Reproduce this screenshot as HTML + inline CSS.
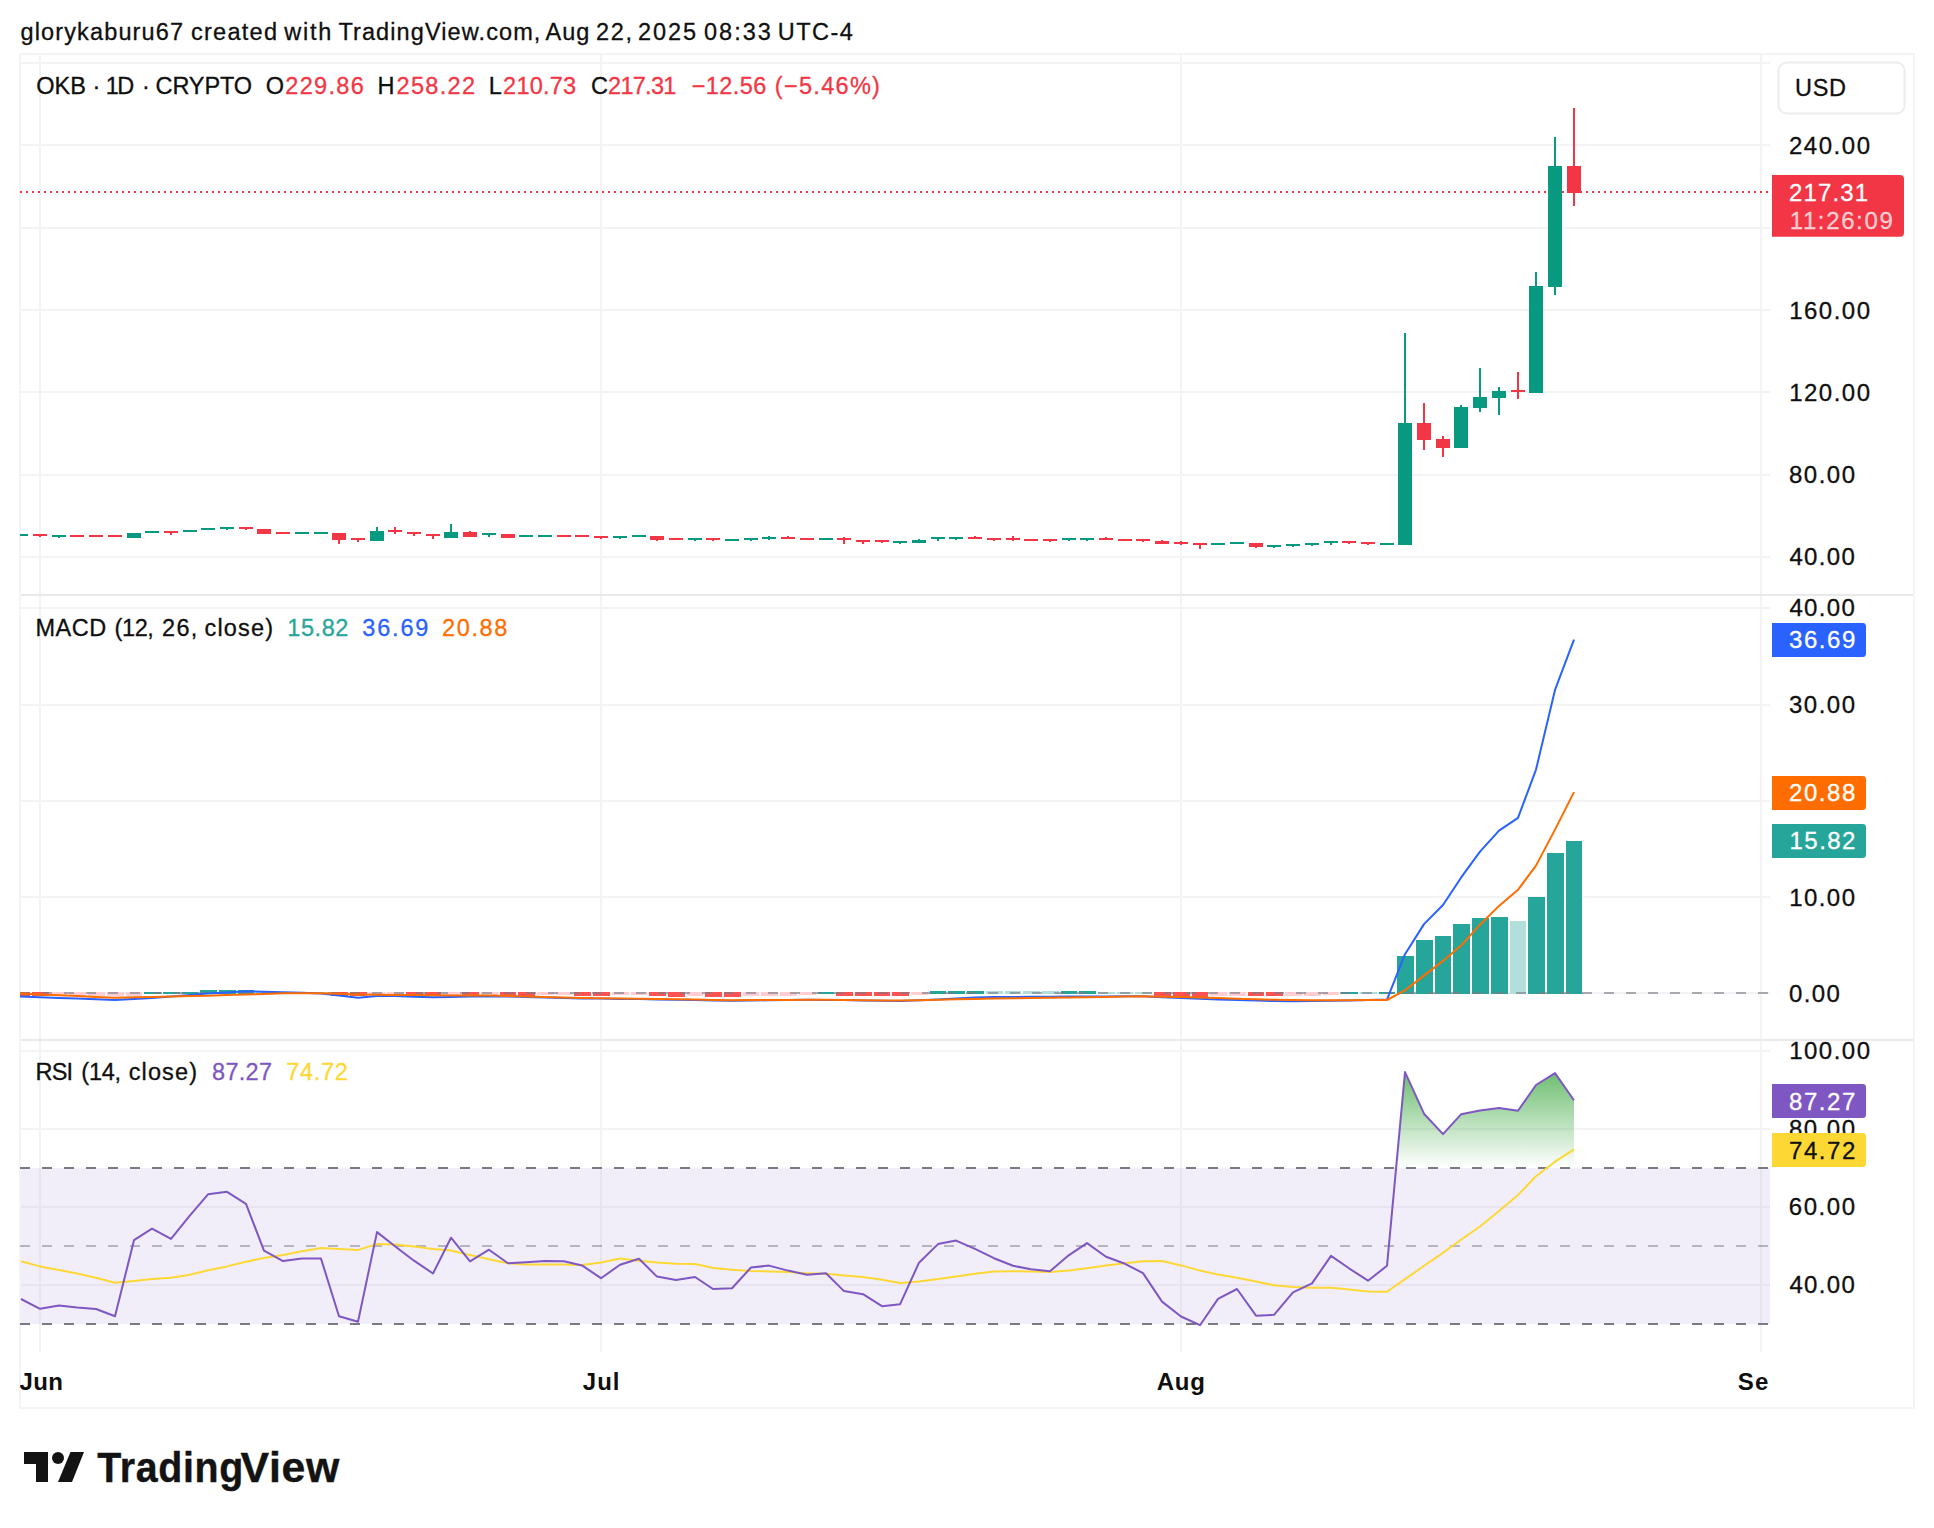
<!DOCTYPE html>
<html lang="en"><head><meta charset="utf-8"><title>OKB chart</title>
<style>
html,body{margin:0;padding:0;background:#fff}
body{width:1934px;height:1528px;overflow:hidden}
svg{display:block;font-family:'Liberation Sans', sans-serif}
text{white-space:pre}
</style></head><body>
<svg width="1934" height="1528" viewBox="0 0 1934 1528">
<rect width="1934" height="1528" fill="#fff"/>
<text x="20.5" y="40.3" font-size="23.5" fill="#0F0F0F" stroke="#0F0F0F" stroke-width="0.3" textLength="162.55" lengthAdjust="spacing">glorykaburu67</text>
<text x="191.01" y="40.3" font-size="23.5" fill="#0F0F0F" stroke="#0F0F0F" stroke-width="0.3" textLength="86" lengthAdjust="spacing">created</text>
<text x="284.17" y="40.3" font-size="23.5" fill="#0F0F0F" stroke="#0F0F0F" stroke-width="0.3" textLength="47.08" lengthAdjust="spacing">with</text>
<text x="338.45" y="40.3" font-size="23.5" fill="#0F0F0F" stroke="#0F0F0F" stroke-width="0.3" textLength="201.91" lengthAdjust="spacing">TradingView.com,</text>
<text x="545.51" y="40.3" font-size="23.5" fill="#0F0F0F" stroke="#0F0F0F" stroke-width="0.3" textLength="43.75" lengthAdjust="spacing">Aug</text>
<text x="596.08" y="40.3" font-size="23.5" fill="#0F0F0F" stroke="#0F0F0F" stroke-width="0.3" textLength="35.95" lengthAdjust="spacing">22,</text>
<text x="637.95" y="40.3" font-size="23.5" fill="#0F0F0F" stroke="#0F0F0F" stroke-width="0.3" textLength="58.15" lengthAdjust="spacing">2025</text>
<text x="704.03" y="40.3" font-size="23.5" fill="#0F0F0F" stroke="#0F0F0F" stroke-width="0.3" textLength="66.75" lengthAdjust="spacing">08:33</text>
<text x="777.78" y="40.3" font-size="23.5" fill="#0F0F0F" stroke="#0F0F0F" stroke-width="0.3" textLength="75.17" lengthAdjust="spacing">UTC-4</text>
<g shape-rendering="crispEdges">
<rect x="19" y="53" width="1896" height="2" fill="#f4f4f5"/>
<rect x="19" y="1407" width="1896" height="2" fill="#f4f4f5"/>
<rect x="19" y="53" width="2" height="1356" fill="#f4f4f5"/>
<rect x="1913" y="53" width="2" height="1356" fill="#f4f4f5"/>
<rect x="39" y="55" width="2" height="1297" fill="#f3f3f4"/>
<rect x="600" y="55" width="2" height="1297" fill="#f3f3f4"/>
<rect x="1180" y="55" width="2" height="1297" fill="#f3f3f4"/>
<rect x="1760" y="55" width="2" height="1297" fill="#f3f3f4"/>
<rect x="21" y="62" width="1749" height="2" fill="#f3f3f4"/>
<rect x="21" y="144" width="1749" height="2" fill="#f3f3f4"/>
<rect x="21" y="227" width="1749" height="2" fill="#f3f3f4"/>
<rect x="21" y="309" width="1749" height="2" fill="#f3f3f4"/>
<rect x="21" y="391" width="1749" height="2" fill="#f3f3f4"/>
<rect x="21" y="474" width="1749" height="2" fill="#f3f3f4"/>
<rect x="21" y="556" width="1749" height="2" fill="#f3f3f4"/>
<rect x="21" y="607" width="1749" height="2" fill="#f3f3f4"/>
<rect x="21" y="704" width="1749" height="2" fill="#f3f3f4"/>
<rect x="21" y="800" width="1749" height="2" fill="#f3f3f4"/>
<rect x="21" y="896" width="1749" height="2" fill="#f3f3f4"/>
<rect x="21" y="992" width="1749" height="2" fill="#f3f3f4"/>
<rect x="21" y="1050" width="1749" height="2" fill="#f3f3f4"/>
<rect x="21" y="1128" width="1749" height="2" fill="#f3f3f4"/>
<rect x="21" y="1206" width="1749" height="2" fill="#f3f3f4"/>
<rect x="21" y="1284" width="1749" height="2" fill="#f3f3f4"/>
<rect x="21" y="594" width="1892" height="2" fill="#e9e9eb"/>
<rect x="21" y="1039" width="1892" height="2" fill="#e9e9eb"/>
</g>
<rect x="21" y="1168" width="1749" height="156" fill="#7E57C2" fill-opacity="0.1"/>
<g stroke-width="2" stroke-dasharray="10 12" fill="none" shape-rendering="crispEdges">
<path d="M20 1168H1770" stroke="#787B86"/>
<path d="M20 1246H1770" stroke="#787B86" stroke-opacity="0.5"/>
<path d="M20 1324H1770" stroke="#787B86"/>
</g>
<defs><clipPath id="pc"><rect x="20" y="55" width="1750" height="1297"/></clipPath><linearGradient id="ob" gradientUnits="userSpaceOnUse" x1="0" y1="1051" x2="0" y2="1168"><stop offset="0" stop-color="#4CAF50" stop-opacity="1"/><stop offset="1" stop-color="#4CAF50" stop-opacity="0"/></linearGradient><clipPath id="tc"><rect x="20" y="1352" width="1750" height="55"/></clipPath></defs>
<g clip-path="url(#pc)">
<path d="M20 192H1768" stroke="#F23645" stroke-width="2" stroke-dasharray="2 4" shape-rendering="crispEdges"/>
<g shape-rendering="crispEdges">
<rect x="14" y="534" width="14" height="2" fill="#089981"/>
<rect x="39" y="534" width="2" height="3" fill="#F23645"/>
<rect x="33" y="534" width="14" height="2" fill="#F23645"/>
<rect x="58" y="535" width="2" height="3" fill="#089981"/>
<rect x="52" y="535" width="14" height="2" fill="#089981"/>
<rect x="70" y="535" width="14" height="2" fill="#F23645"/>
<rect x="89" y="535" width="14" height="2" fill="#F23645"/>
<rect x="108" y="535" width="14" height="2" fill="#F23645"/>
<rect x="127" y="533" width="14" height="5" fill="#089981"/>
<rect x="145" y="531" width="14" height="2" fill="#089981"/>
<rect x="170" y="531" width="2" height="4" fill="#F23645"/>
<rect x="164" y="531" width="14" height="2" fill="#F23645"/>
<rect x="183" y="530" width="14" height="2" fill="#089981"/>
<rect x="201" y="528" width="14" height="2" fill="#089981"/>
<rect x="226" y="527" width="2" height="3" fill="#089981"/>
<rect x="220" y="527" width="14" height="2" fill="#089981"/>
<rect x="245" y="527" width="2" height="3" fill="#F23645"/>
<rect x="239" y="527" width="14" height="2" fill="#F23645"/>
<rect x="257" y="529" width="14" height="5" fill="#F23645"/>
<rect x="276" y="532" width="14" height="2" fill="#F23645"/>
<rect x="295" y="532" width="14" height="2" fill="#089981"/>
<rect x="314" y="532" width="14" height="2" fill="#089981"/>
<rect x="338" y="533" width="2" height="11" fill="#F23645"/>
<rect x="332" y="533" width="14" height="7" fill="#F23645"/>
<rect x="357" y="538" width="2" height="4" fill="#F23645"/>
<rect x="351" y="538" width="14" height="2" fill="#F23645"/>
<rect x="376" y="527" width="2" height="14" fill="#089981"/>
<rect x="370" y="531" width="14" height="10" fill="#089981"/>
<rect x="394" y="527" width="2" height="7" fill="#F23645"/>
<rect x="388" y="530" width="14" height="2" fill="#F23645"/>
<rect x="413" y="532" width="2" height="4" fill="#F23645"/>
<rect x="407" y="532" width="14" height="2" fill="#F23645"/>
<rect x="432" y="534" width="2" height="5" fill="#F23645"/>
<rect x="426" y="534" width="14" height="2" fill="#F23645"/>
<rect x="450" y="524" width="2" height="14" fill="#089981"/>
<rect x="444" y="532" width="14" height="6" fill="#089981"/>
<rect x="469" y="531" width="2" height="6" fill="#F23645"/>
<rect x="463" y="532" width="14" height="5" fill="#F23645"/>
<rect x="488" y="533" width="2" height="4" fill="#089981"/>
<rect x="482" y="533" width="14" height="2" fill="#089981"/>
<rect x="501" y="534" width="14" height="4" fill="#F23645"/>
<rect x="519" y="535" width="14" height="2" fill="#089981"/>
<rect x="538" y="535" width="14" height="2" fill="#089981"/>
<rect x="557" y="535" width="14" height="2" fill="#F23645"/>
<rect x="575" y="535" width="14" height="2" fill="#F23645"/>
<rect x="600" y="536" width="2" height="3" fill="#F23645"/>
<rect x="594" y="536" width="14" height="2" fill="#F23645"/>
<rect x="619" y="536" width="2" height="3" fill="#089981"/>
<rect x="613" y="536" width="14" height="2" fill="#089981"/>
<rect x="632" y="535" width="14" height="2" fill="#089981"/>
<rect x="656" y="536" width="2" height="5" fill="#F23645"/>
<rect x="650" y="536" width="14" height="4" fill="#F23645"/>
<rect x="669" y="538" width="14" height="2" fill="#F23645"/>
<rect x="694" y="538" width="2" height="3" fill="#089981"/>
<rect x="688" y="538" width="14" height="2" fill="#089981"/>
<rect x="712" y="538" width="2" height="3" fill="#F23645"/>
<rect x="706" y="538" width="14" height="2" fill="#F23645"/>
<rect x="725" y="539" width="14" height="2" fill="#089981"/>
<rect x="750" y="538" width="2" height="3" fill="#089981"/>
<rect x="744" y="538" width="14" height="2" fill="#089981"/>
<rect x="768" y="536" width="2" height="4" fill="#089981"/>
<rect x="762" y="537" width="14" height="2" fill="#089981"/>
<rect x="787" y="536" width="2" height="3" fill="#F23645"/>
<rect x="781" y="537" width="14" height="2" fill="#F23645"/>
<rect x="800" y="538" width="14" height="2" fill="#F23645"/>
<rect x="819" y="538" width="14" height="2" fill="#089981"/>
<rect x="843" y="537" width="2" height="7" fill="#F23645"/>
<rect x="837" y="538" width="14" height="2" fill="#F23645"/>
<rect x="862" y="540" width="2" height="4" fill="#F23645"/>
<rect x="856" y="540" width="14" height="2" fill="#F23645"/>
<rect x="881" y="540" width="2" height="3" fill="#F23645"/>
<rect x="875" y="540" width="14" height="2" fill="#F23645"/>
<rect x="899" y="541" width="2" height="3" fill="#089981"/>
<rect x="893" y="541" width="14" height="2" fill="#089981"/>
<rect x="918" y="539" width="2" height="4" fill="#089981"/>
<rect x="912" y="540" width="14" height="3" fill="#089981"/>
<rect x="937" y="537" width="2" height="4" fill="#089981"/>
<rect x="931" y="537" width="14" height="2" fill="#089981"/>
<rect x="955" y="537" width="2" height="3" fill="#089981"/>
<rect x="949" y="537" width="14" height="2" fill="#089981"/>
<rect x="974" y="536" width="2" height="3" fill="#F23645"/>
<rect x="968" y="537" width="14" height="2" fill="#F23645"/>
<rect x="993" y="538" width="2" height="3" fill="#F23645"/>
<rect x="987" y="538" width="14" height="2" fill="#F23645"/>
<rect x="1012" y="536" width="2" height="5" fill="#F23645"/>
<rect x="1006" y="538" width="14" height="2" fill="#F23645"/>
<rect x="1024" y="539" width="14" height="2" fill="#F23645"/>
<rect x="1049" y="539" width="2" height="3" fill="#F23645"/>
<rect x="1043" y="539" width="14" height="2" fill="#F23645"/>
<rect x="1068" y="538" width="2" height="3" fill="#089981"/>
<rect x="1062" y="538" width="14" height="2" fill="#089981"/>
<rect x="1086" y="538" width="2" height="3" fill="#089981"/>
<rect x="1080" y="538" width="14" height="2" fill="#089981"/>
<rect x="1105" y="537" width="2" height="3" fill="#F23645"/>
<rect x="1099" y="538" width="14" height="2" fill="#F23645"/>
<rect x="1118" y="539" width="14" height="2" fill="#F23645"/>
<rect x="1142" y="539" width="2" height="3" fill="#F23645"/>
<rect x="1136" y="539" width="14" height="2" fill="#F23645"/>
<rect x="1161" y="540" width="2" height="4" fill="#F23645"/>
<rect x="1155" y="541" width="14" height="3" fill="#F23645"/>
<rect x="1180" y="541" width="2" height="4" fill="#F23645"/>
<rect x="1174" y="542" width="14" height="2" fill="#F23645"/>
<rect x="1199" y="543" width="2" height="6" fill="#F23645"/>
<rect x="1193" y="543" width="14" height="2" fill="#F23645"/>
<rect x="1211" y="543" width="14" height="2" fill="#089981"/>
<rect x="1230" y="542" width="14" height="2" fill="#089981"/>
<rect x="1255" y="543" width="2" height="5" fill="#F23645"/>
<rect x="1249" y="543" width="14" height="4" fill="#F23645"/>
<rect x="1273" y="545" width="2" height="3" fill="#089981"/>
<rect x="1267" y="545" width="14" height="2" fill="#089981"/>
<rect x="1292" y="544" width="2" height="3" fill="#089981"/>
<rect x="1286" y="544" width="14" height="2" fill="#089981"/>
<rect x="1311" y="543" width="2" height="3" fill="#089981"/>
<rect x="1305" y="543" width="14" height="2" fill="#089981"/>
<rect x="1330" y="541" width="2" height="4" fill="#089981"/>
<rect x="1324" y="541" width="14" height="2" fill="#089981"/>
<rect x="1348" y="541" width="2" height="3" fill="#F23645"/>
<rect x="1342" y="541" width="14" height="2" fill="#F23645"/>
<rect x="1367" y="542" width="2" height="3" fill="#F23645"/>
<rect x="1361" y="542" width="14" height="2" fill="#F23645"/>
<rect x="1380" y="543" width="14" height="2" fill="#089981"/>
<rect x="1404" y="333" width="2" height="212" fill="#089981"/>
<rect x="1398" y="423" width="14" height="122" fill="#089981"/>
<rect x="1423" y="403" width="2" height="47" fill="#F23645"/>
<rect x="1417" y="423" width="14" height="17" fill="#F23645"/>
<rect x="1442" y="436" width="2" height="21" fill="#F23645"/>
<rect x="1436" y="439" width="14" height="9" fill="#F23645"/>
<rect x="1460" y="405" width="2" height="43" fill="#089981"/>
<rect x="1454" y="407" width="14" height="41" fill="#089981"/>
<rect x="1479" y="368" width="2" height="44" fill="#089981"/>
<rect x="1473" y="397" width="14" height="11" fill="#089981"/>
<rect x="1498" y="387" width="2" height="28" fill="#089981"/>
<rect x="1492" y="391" width="14" height="7" fill="#089981"/>
<rect x="1517" y="372" width="2" height="27" fill="#F23645"/>
<rect x="1511" y="390" width="14" height="2" fill="#F23645"/>
<rect x="1535" y="272" width="2" height="121" fill="#089981"/>
<rect x="1529" y="286" width="14" height="107" fill="#089981"/>
<rect x="1554" y="137" width="2" height="158" fill="#089981"/>
<rect x="1548" y="166" width="14" height="121" fill="#089981"/>
<rect x="1573" y="108" width="2" height="98" fill="#F23645"/>
<rect x="1567" y="166" width="14" height="27" fill="#F23645"/>
</g>
<g shape-rendering="crispEdges">
<rect x="13" y="992" width="17" height="4" fill="#FF5252"/>
<rect x="32" y="992" width="17" height="4" fill="#FF5252"/>
<rect x="51" y="992" width="16" height="4" fill="#FFCDD2"/>
<rect x="69" y="992" width="17" height="4" fill="#FFCDD2"/>
<rect x="88" y="992" width="17" height="4" fill="#FFCDD2"/>
<rect x="107" y="992" width="17" height="4" fill="#FFCDD2"/>
<rect x="126" y="992" width="16" height="4" fill="#FFCDD2"/>
<rect x="144" y="992" width="17" height="2" fill="#26A69A"/>
<rect x="163" y="992" width="17" height="2" fill="#26A69A"/>
<rect x="182" y="992" width="16" height="2" fill="#26A69A"/>
<rect x="200" y="990" width="17" height="4" fill="#26A69A"/>
<rect x="219" y="990" width="17" height="4" fill="#26A69A"/>
<rect x="238" y="990" width="16" height="4" fill="#26A69A"/>
<rect x="256" y="992" width="17" height="2" fill="#B2DFDB"/>
<rect x="275" y="992" width="17" height="2" fill="#B2DFDB"/>
<rect x="294" y="992" width="17" height="2" fill="#B2DFDB"/>
<rect x="313" y="992" width="16" height="2" fill="#B2DFDB"/>
<rect x="331" y="992" width="17" height="4" fill="#FF5252"/>
<rect x="350" y="992" width="17" height="4" fill="#FF5252"/>
<rect x="369" y="992" width="16" height="4" fill="#FFCDD2"/>
<rect x="387" y="992" width="17" height="4" fill="#FFCDD2"/>
<rect x="406" y="992" width="17" height="4" fill="#FF5252"/>
<rect x="425" y="992" width="16" height="4" fill="#FF5252"/>
<rect x="443" y="992" width="17" height="4" fill="#FFCDD2"/>
<rect x="462" y="992" width="17" height="4" fill="#FF5252"/>
<rect x="481" y="992" width="17" height="3" fill="#FFCDD2"/>
<rect x="500" y="992" width="16" height="4" fill="#FF5252"/>
<rect x="518" y="992" width="17" height="4" fill="#FF5252"/>
<rect x="537" y="992" width="17" height="3" fill="#FFCDD2"/>
<rect x="556" y="992" width="16" height="3" fill="#FFCDD2"/>
<rect x="574" y="992" width="17" height="4" fill="#FF5252"/>
<rect x="593" y="992" width="17" height="4" fill="#FF5252"/>
<rect x="612" y="992" width="17" height="3" fill="#FFCDD2"/>
<rect x="631" y="992" width="16" height="3" fill="#FFCDD2"/>
<rect x="649" y="992" width="17" height="4" fill="#FF5252"/>
<rect x="668" y="992" width="17" height="5" fill="#FF5252"/>
<rect x="687" y="992" width="16" height="4" fill="#FFCDD2"/>
<rect x="705" y="992" width="17" height="5" fill="#FF5252"/>
<rect x="724" y="992" width="17" height="5" fill="#FF5252"/>
<rect x="743" y="992" width="16" height="4" fill="#FFCDD2"/>
<rect x="761" y="992" width="17" height="4" fill="#FFCDD2"/>
<rect x="780" y="992" width="17" height="4" fill="#FFCDD2"/>
<rect x="799" y="992" width="17" height="3" fill="#FFCDD2"/>
<rect x="818" y="992" width="16" height="2" fill="#26A69A"/>
<rect x="836" y="992" width="17" height="4" fill="#FF5252"/>
<rect x="855" y="992" width="17" height="4" fill="#FF5252"/>
<rect x="874" y="992" width="16" height="4" fill="#FF5252"/>
<rect x="892" y="992" width="17" height="4" fill="#FF5252"/>
<rect x="911" y="992" width="17" height="3" fill="#FFCDD2"/>
<rect x="930" y="991" width="16" height="3" fill="#26A69A"/>
<rect x="948" y="991" width="17" height="3" fill="#26A69A"/>
<rect x="967" y="991" width="17" height="3" fill="#26A69A"/>
<rect x="986" y="991" width="17" height="3" fill="#B2DFDB"/>
<rect x="1005" y="991" width="16" height="3" fill="#B2DFDB"/>
<rect x="1023" y="991" width="17" height="3" fill="#B2DFDB"/>
<rect x="1042" y="991" width="17" height="3" fill="#B2DFDB"/>
<rect x="1061" y="991" width="16" height="3" fill="#26A69A"/>
<rect x="1079" y="991" width="17" height="3" fill="#26A69A"/>
<rect x="1098" y="992" width="17" height="2" fill="#B2DFDB"/>
<rect x="1117" y="992" width="16" height="2" fill="#B2DFDB"/>
<rect x="1135" y="992" width="17" height="2" fill="#B2DFDB"/>
<rect x="1154" y="992" width="17" height="4" fill="#FF5252"/>
<rect x="1173" y="992" width="17" height="5" fill="#FF5252"/>
<rect x="1192" y="992" width="16" height="5" fill="#FF5252"/>
<rect x="1210" y="992" width="17" height="4" fill="#FFCDD2"/>
<rect x="1229" y="992" width="17" height="4" fill="#FFCDD2"/>
<rect x="1248" y="992" width="16" height="4" fill="#FF5252"/>
<rect x="1266" y="992" width="17" height="4" fill="#FF5252"/>
<rect x="1285" y="992" width="17" height="4" fill="#FFCDD2"/>
<rect x="1304" y="992" width="17" height="4" fill="#FFCDD2"/>
<rect x="1323" y="992" width="16" height="3" fill="#FFCDD2"/>
<rect x="1341" y="992" width="17" height="2" fill="#26A69A"/>
<rect x="1360" y="992" width="17" height="2" fill="#B2DFDB"/>
<rect x="1379" y="992" width="16" height="2" fill="#26A69A"/>
<rect x="1397" y="956" width="17" height="38" fill="#26A69A"/>
<rect x="1416" y="940" width="17" height="54" fill="#26A69A"/>
<rect x="1435" y="936" width="16" height="58" fill="#26A69A"/>
<rect x="1453" y="924" width="17" height="70" fill="#26A69A"/>
<rect x="1472" y="918" width="17" height="76" fill="#26A69A"/>
<rect x="1491" y="917" width="17" height="77" fill="#26A69A"/>
<rect x="1510" y="921" width="16" height="73" fill="#B2DFDB"/>
<rect x="1528" y="897" width="17" height="97" fill="#26A69A"/>
<rect x="1547" y="853" width="17" height="141" fill="#26A69A"/>
<rect x="1566" y="841" width="16" height="153" fill="#26A69A"/>
</g>
<path d="M20 993H1770" stroke="#787B86" stroke-opacity="0.62" stroke-width="2" stroke-dasharray="10 12" shape-rendering="crispEdges"/>
<path d="M20.0 996.5 L40.0 997.2 L59.0 998.0 L77.0 998.6 L96.0 999.3 L115.0 999.9 L134.0 998.9 L152.0 997.9 L171.0 996.6 L190.0 995.0 L208.0 993.5 L227.0 992.4 L246.0 991.3 L264.0 991.7 L283.0 992.2 L302.0 992.8 L321.0 993.5 L339.0 995.5 L358.0 997.7 L377.0 996.1 L395.0 996.1 L414.0 996.7 L433.0 997.2 L451.0 996.9 L470.0 996.6 L489.0 996.4 L508.0 996.4 L526.0 996.9 L545.0 997.4 L564.0 997.9 L582.0 998.4 L601.0 998.6 L620.0 998.9 L639.0 999.1 L657.0 999.4 L676.0 999.8 L695.0 1000.1 L713.0 1000.5 L732.0 1000.8 L751.0 1000.5 L769.0 1000.3 L788.0 1000.1 L807.0 999.8 L826.0 999.9 L844.0 1000.1 L863.0 1000.4 L882.0 1000.7 L900.0 1001.0 L919.0 1000.2 L938.0 999.4 L956.0 998.5 L975.0 997.5 L994.0 997.1 L1013.0 997.0 L1031.0 996.8 L1050.0 996.7 L1069.0 996.6 L1087.0 996.5 L1106.0 996.4 L1125.0 996.3 L1143.0 996.3 L1162.0 997.2 L1181.0 998.1 L1200.0 998.8 L1218.0 999.4 L1237.0 1000.0 L1256.0 1000.6 L1274.0 1001.1 L1293.0 1001.3 L1312.0 1001.0 L1331.0 1000.7 L1349.0 1000.4 L1368.0 1000.0 L1387.0 999.6 L1405.0 954.2 L1424.0 924.1 L1443.0 905.0 L1461.0 877.7 L1480.0 851.7 L1499.0 830.7 L1518.0 817.9 L1536.0 769.6 L1555.0 689.9 L1574.0 639.7" stroke="#2962FF" stroke-width="2" fill="none" stroke-linejoin="round" stroke-linecap="butt"/>
<path d="M20.0 993.6 L40.0 994.5 L59.0 995.3 L77.0 996.1 L96.0 996.9 L115.0 997.7 L134.0 997.3 L152.0 996.9 L171.0 996.5 L190.0 996.1 L208.0 995.7 L227.0 995.1 L246.0 994.5 L264.0 993.9 L283.0 993.3 L302.0 993.3 L321.0 993.2 L339.0 993.8 L358.0 994.5 L377.0 994.8 L395.0 994.9 L414.0 995.1 L433.0 995.3 L451.0 995.5 L470.0 995.5 L489.0 995.6 L508.0 995.9 L526.0 996.4 L545.0 997.0 L564.0 997.5 L582.0 998.0 L601.0 998.2 L620.0 998.5 L639.0 998.7 L657.0 999.0 L676.0 999.3 L695.0 999.6 L713.0 999.9 L732.0 1000.2 L751.0 1000.1 L769.0 1000.0 L788.0 999.9 L807.0 999.7 L826.0 999.8 L844.0 1000.0 L863.0 1000.2 L882.0 1000.4 L900.0 1000.6 L919.0 1000.2 L938.0 999.7 L956.0 999.3 L975.0 998.9 L994.0 998.6 L1013.0 998.3 L1031.0 998.0 L1050.0 997.8 L1069.0 997.5 L1087.0 997.2 L1106.0 996.9 L1125.0 996.6 L1143.0 996.3 L1162.0 996.7 L1181.0 997.1 L1200.0 997.6 L1218.0 998.1 L1237.0 998.7 L1256.0 999.2 L1274.0 999.7 L1293.0 1000.1 L1312.0 1000.2 L1331.0 1000.3 L1349.0 1000.2 L1368.0 1000.1 L1387.0 1000.0 L1405.0 990.4 L1424.0 975.6 L1443.0 960.9 L1461.0 945.6 L1480.0 924.7 L1499.0 905.9 L1518.0 889.8 L1536.0 865.6 L1555.0 829.6 L1574.0 792.1" stroke="#FF6D00" stroke-width="2" fill="none" stroke-linejoin="round" stroke-linecap="butt"/>
<path d="M1396.1 1168.0 L1405.0 1072.1 L1424.0 1113.7 L1443.0 1134.1 L1461.0 1114.3 L1480.0 1110.6 L1499.0 1108.1 L1518.0 1110.8 L1536.0 1085.0 L1555.0 1073.1 L1574.0 1100.3 L1574.0 1168.0Z" fill="url(#ob)"/>
<path d="M21.0 1261.3 L40.0 1266.4 L59.0 1270.0 L77.0 1273.5 L96.0 1277.8 L115.0 1282.8 L134.0 1281.1 L152.0 1279.1 L171.0 1277.8 L190.0 1274.7 L208.0 1270.2 L227.0 1266.4 L246.0 1261.7 L264.0 1258.0 L283.0 1255.1 L302.0 1251.3 L321.0 1248.0 L339.0 1248.9 L358.0 1249.9 L377.0 1244.1 L395.0 1244.5 L414.0 1246.6 L433.0 1248.9 L451.0 1250.5 L470.0 1255.1 L489.0 1259.2 L508.0 1263.3 L526.0 1264.4 L545.0 1264.4 L564.0 1264.4 L582.0 1265.0 L601.0 1262.5 L620.0 1258.4 L639.0 1260.7 L657.0 1262.5 L676.0 1263.8 L695.0 1264.0 L713.0 1267.9 L732.0 1269.8 L751.0 1271.0 L769.0 1271.4 L788.0 1272.0 L807.0 1273.3 L826.0 1273.7 L844.0 1275.5 L863.0 1277.0 L882.0 1279.7 L900.0 1283.0 L919.0 1281.5 L938.0 1279.1 L956.0 1276.4 L975.0 1273.7 L994.0 1271.4 L1013.0 1271.2 L1031.0 1271.6 L1050.0 1272.0 L1069.0 1270.6 L1087.0 1268.3 L1106.0 1265.6 L1125.0 1263.3 L1143.0 1261.3 L1162.0 1261.1 L1181.0 1265.4 L1200.0 1270.6 L1218.0 1274.5 L1237.0 1277.8 L1256.0 1281.5 L1274.0 1285.3 L1293.0 1286.9 L1312.0 1287.7 L1331.0 1287.7 L1349.0 1289.6 L1368.0 1291.5 L1387.0 1291.7 L1405.0 1279.1 L1424.0 1265.8 L1443.0 1252.8 L1461.0 1239.8 L1480.0 1226.5 L1499.0 1211.0 L1518.0 1194.9 L1536.0 1176.3 L1555.0 1161.7 L1574.0 1149.3" stroke="#FDD835" stroke-width="2" fill="none" stroke-linejoin="round" stroke-linecap="butt"/>
<path d="M21.0 1299.0 L40.0 1308.8 L59.0 1305.5 L77.0 1307.6 L96.0 1309.0 L115.0 1316.3 L134.0 1240.2 L152.0 1228.6 L171.0 1238.9 L190.0 1215.4 L208.0 1194.3 L227.0 1191.8 L246.0 1203.8 L264.0 1250.7 L283.0 1261.1 L302.0 1258.6 L321.0 1258.6 L339.0 1316.3 L358.0 1321.7 L377.0 1232.1 L395.0 1246.2 L414.0 1260.7 L433.0 1273.5 L451.0 1237.7 L470.0 1261.3 L489.0 1249.7 L508.0 1263.3 L526.0 1262.3 L545.0 1261.1 L564.0 1261.3 L582.0 1265.4 L601.0 1278.2 L620.0 1264.8 L639.0 1258.8 L657.0 1276.6 L676.0 1279.9 L695.0 1277.0 L713.0 1289.0 L732.0 1288.2 L751.0 1267.5 L769.0 1265.6 L788.0 1270.6 L807.0 1274.7 L826.0 1273.3 L844.0 1291.1 L863.0 1294.2 L882.0 1306.2 L900.0 1304.3 L919.0 1262.7 L938.0 1244.1 L956.0 1240.6 L975.0 1248.9 L994.0 1258.2 L1013.0 1265.8 L1031.0 1269.3 L1050.0 1271.2 L1069.0 1255.1 L1087.0 1243.1 L1106.0 1256.7 L1125.0 1263.8 L1143.0 1273.1 L1162.0 1301.6 L1181.0 1316.5 L1200.0 1325.2 L1218.0 1298.9 L1237.0 1289.0 L1256.0 1315.7 L1274.0 1314.8 L1293.0 1292.3 L1312.0 1283.4 L1331.0 1255.9 L1349.0 1268.3 L1368.0 1280.7 L1387.0 1265.8 L1405.0 1072.1 L1424.0 1113.7 L1443.0 1134.1 L1461.0 1114.3 L1480.0 1110.6 L1499.0 1108.1 L1518.0 1110.8 L1536.0 1085.0 L1555.0 1073.1 L1574.0 1100.3" stroke="#7E57C2" stroke-width="2" fill="none" stroke-linejoin="round" stroke-linecap="butt"/>
</g>
<text x="36.26" y="94" font-size="23.5" fill="#0F0F0F" stroke="#0F0F0F" stroke-width="0.3" textLength="49.63" lengthAdjust="spacing">OKB</text>
<text x="92.43" y="94" font-size="23.5" fill="#0F0F0F" stroke="#0F0F0F" stroke-width="0.3" textLength="7.06" lengthAdjust="spacing">·</text>
<text x="105.84" y="94" font-size="23.5" fill="#0F0F0F" stroke="#0F0F0F" stroke-width="0.3" textLength="28.48" lengthAdjust="spacing">1D</text>
<text x="142.02" y="94" font-size="23.5" fill="#0F0F0F" stroke="#0F0F0F" stroke-width="0.3" textLength="7.05" lengthAdjust="spacing">·</text>
<text x="155.49" y="94" font-size="23.5" fill="#0F0F0F" stroke="#0F0F0F" stroke-width="0.3" textLength="96.65" lengthAdjust="spacing">CRYPTO</text>
<text x="265.66" y="94" font-size="23.5" fill="#0F0F0F" stroke="#0F0F0F" stroke-width="0.3" textLength="23.54" lengthAdjust="spacing">O</text>
<text x="285.25" y="94" font-size="23.5" fill="#F23645" stroke="#F23645" stroke-width="0.3" textLength="78.49" lengthAdjust="spacing">229.86</text>
<text x="377.61" y="94" font-size="23.5" fill="#0F0F0F" stroke="#0F0F0F" stroke-width="0.3" textLength="23.11" lengthAdjust="spacing">H</text>
<text x="396.58" y="94" font-size="23.5" fill="#F23645" stroke="#F23645" stroke-width="0.3" textLength="78.49" lengthAdjust="spacing">258.22</text>
<text x="488.67" y="94" font-size="23.5" fill="#0F0F0F" stroke="#0F0F0F" stroke-width="0.3" textLength="11.34" lengthAdjust="spacing">L</text>
<text x="503.08" y="94" font-size="23.5" fill="#F23645" stroke="#F23645" stroke-width="0.3" textLength="73.11" lengthAdjust="spacing">210.73</text>
<text x="590.99" y="94" font-size="23.5" fill="#0F0F0F" stroke="#0F0F0F" stroke-width="0.3" textLength="17.09" lengthAdjust="spacing">C</text>
<text x="608.08" y="94" font-size="23.5" fill="#F23645" stroke="#F23645" stroke-width="0.3" textLength="68.23" lengthAdjust="spacing">217.31</text>
<text x="691.68" y="94" font-size="23.5" fill="#F23645" stroke="#F23645" stroke-width="0.3" textLength="74.63" lengthAdjust="spacing">−12.56</text>
<text x="774.75" y="94" font-size="23.5" fill="#F23645" stroke="#F23645" stroke-width="0.3" textLength="105.19" lengthAdjust="spacing">(−5.46%)</text>
<text x="35.47" y="635.7" font-size="23.5" fill="#0F0F0F" stroke="#0F0F0F" stroke-width="0.3" textLength="70.76" lengthAdjust="spacing">MACD</text>
<text x="114.49" y="635.7" font-size="23.5" fill="#0F0F0F" stroke="#0F0F0F" stroke-width="0.3" textLength="39.37" lengthAdjust="spacing">(12,</text>
<text x="162.08" y="635.7" font-size="23.5" fill="#0F0F0F" stroke="#0F0F0F" stroke-width="0.3" textLength="35.28" lengthAdjust="spacing">26,</text>
<text x="204.59" y="635.7" font-size="23.5" fill="#0F0F0F" stroke="#0F0F0F" stroke-width="0.3" textLength="68.37" lengthAdjust="spacing">close)</text>
<text x="287.25" y="635.7" font-size="23.5" fill="#26A69A" stroke="#26A69A" stroke-width="0.3" textLength="61.2" lengthAdjust="spacing">15.82</text>
<text x="362.29" y="635.7" font-size="23.5" fill="#2962FF" stroke="#2962FF" stroke-width="0.3" textLength="66.08" lengthAdjust="spacing">36.69</text>
<text x="442.08" y="635.7" font-size="23.5" fill="#FF6D00" stroke="#FF6D00" stroke-width="0.3" textLength="65.21" lengthAdjust="spacing">20.88</text>
<text x="35.61" y="1080.3" font-size="23.5" fill="#0F0F0F" stroke="#0F0F0F" stroke-width="0.3" textLength="37.48" lengthAdjust="spacing">RSI</text>
<text x="81.32" y="1080.3" font-size="23.5" fill="#0F0F0F" stroke="#0F0F0F" stroke-width="0.3" textLength="39.71" lengthAdjust="spacing">(14,</text>
<text x="128.77" y="1080.3" font-size="23.5" fill="#0F0F0F" stroke="#0F0F0F" stroke-width="0.3" textLength="68.19" lengthAdjust="spacing">close)</text>
<text x="212.02" y="1080.3" font-size="23.5" fill="#7E57C2" stroke="#7E57C2" stroke-width="0.3" textLength="60.03" lengthAdjust="spacing">87.27</text>
<text x="286.25" y="1080.3" font-size="23.5" fill="#FDD835" stroke="#FDD835" stroke-width="0.3" textLength="61.47" lengthAdjust="spacing">74.72</text>
<text x="1789" y="154" font-size="24" fill="#0F0F0F" stroke="#0F0F0F" stroke-width="0.3" textLength="81" lengthAdjust="spacing">240.00</text>
<text x="1789.19" y="318.7" font-size="24" fill="#0F0F0F" stroke="#0F0F0F" stroke-width="0.3" textLength="80.82" lengthAdjust="spacing">160.00</text>
<text x="1789.19" y="400.7" font-size="24" fill="#0F0F0F" stroke="#0F0F0F" stroke-width="0.3" textLength="80.82" lengthAdjust="spacing">120.00</text>
<text x="1788.97" y="483" font-size="24" fill="#0F0F0F" stroke="#0F0F0F" stroke-width="0.3" textLength="66.03" lengthAdjust="spacing">80.00</text>
<text x="1789.43" y="565.2" font-size="24" fill="#0F0F0F" stroke="#0F0F0F" stroke-width="0.3" textLength="65.43" lengthAdjust="spacing">40.00</text>
<text x="1789.43" y="616.3" font-size="24" fill="#0F0F0F" stroke="#0F0F0F" stroke-width="0.3" textLength="65.43" lengthAdjust="spacing">40.00</text>
<text x="1788.97" y="712.7" font-size="24" fill="#0F0F0F" stroke="#0F0F0F" stroke-width="0.3" textLength="66.04" lengthAdjust="spacing">30.00</text>
<text x="1789.19" y="905.5" font-size="24" fill="#0F0F0F" stroke="#0F0F0F" stroke-width="0.3" textLength="65.82" lengthAdjust="spacing">10.00</text>
<text x="1789.09" y="1001.8" font-size="24" fill="#0F0F0F" stroke="#0F0F0F" stroke-width="0.3" textLength="50.77" lengthAdjust="spacing">0.00</text>
<text x="1789.19" y="1059.3" font-size="24" fill="#0F0F0F" stroke="#0F0F0F" stroke-width="0.3" textLength="80.82" lengthAdjust="spacing">100.00</text>
<text x="1788.97" y="1137.3" font-size="24" fill="#0F0F0F" stroke="#0F0F0F" stroke-width="0.3" textLength="66.03" lengthAdjust="spacing">80.00</text>
<text x="1788.85" y="1215.3" font-size="24" fill="#0F0F0F" stroke="#0F0F0F" stroke-width="0.3" textLength="66.15" lengthAdjust="spacing">60.00</text>
<text x="1789.43" y="1293.3" font-size="24" fill="#0F0F0F" stroke="#0F0F0F" stroke-width="0.3" textLength="65.43" lengthAdjust="spacing">40.00</text>
<rect x="1778.5" y="62.5" width="126" height="51" rx="8" ry="8" fill="#fff" stroke="#ececee" stroke-width="2"/>
<text x="1794.97" y="95.5" font-size="23.5" fill="#0F0F0F" stroke="#0F0F0F" stroke-width="0.3" textLength="51.01" lengthAdjust="spacing">USD</text>
<path d="M1772 175H1900a4 4 0 0 1 4 4V232.8a4 4 0 0 1 -4 4H1772Z" fill="#F23645"/>
<text x="1789.05" y="200.7" font-size="24" fill="#fff" stroke="#fff" stroke-width="0.3" textLength="79.03" lengthAdjust="spacing">217.31</text>
<text x="1789.69" y="228.8" font-size="24" fill="#fff" stroke="#fff" stroke-width="0.3" textLength="103.05" lengthAdjust="spacing" fill-opacity="0.72" stroke-opacity="0.72">11:26:09</text>
<path d="M1772 623H1862.5a3.5 3.5 0 0 1 3.5 3.5V653.5a3.5 3.5 0 0 1 -3.5 3.5H1772Z" fill="#2962FF"/>
<text x="1788.97" y="648.2" font-size="24" fill="#fff" stroke="#fff" stroke-width="0.3" textLength="66.39" lengthAdjust="spacing">36.69</text>
<path d="M1772 776H1862.5a3.5 3.5 0 0 1 3.5 3.5V806.5a3.5 3.5 0 0 1 -3.5 3.5H1772Z" fill="#FF6D00"/>
<text x="1789" y="801.1" font-size="24" fill="#fff" stroke="#fff" stroke-width="0.3" textLength="66.28" lengthAdjust="spacing">20.88</text>
<path d="M1772 824H1862.5a3.5 3.5 0 0 1 3.5 3.5V854.5a3.5 3.5 0 0 1 -3.5 3.5H1772Z" fill="#26A69A"/>
<text x="1789.6" y="849.2" font-size="24" fill="#fff" stroke="#fff" stroke-width="0.3" textLength="65.74" lengthAdjust="spacing">15.82</text>
<path d="M1772 1084H1862.5a3.5 3.5 0 0 1 3.5 3.5V1114.5a3.5 3.5 0 0 1 -3.5 3.5H1772Z" fill="#7E57C2"/>
<text x="1788.97" y="1110" font-size="24" fill="#fff" stroke="#fff" stroke-width="0.3" textLength="66.37" lengthAdjust="spacing">87.27</text>
<path d="M1772 1133H1862.5a3.5 3.5 0 0 1 3.5 3.5V1163.5a3.5 3.5 0 0 1 -3.5 3.5H1772Z" fill="#FDD835"/>
<text x="1788.96" y="1158.9" font-size="24" fill="#0F0F0F" stroke="#0F0F0F" stroke-width="0.3" textLength="66.38" lengthAdjust="spacing">74.72</text>
<g clip-path="url(#tc)" font-weight="bold">
<text x="19.62" y="1389.8" font-size="24" fill="#0F0F0F" font-weight="bold" textLength="43.28" lengthAdjust="spacing">Jun</text>
<text x="582.81" y="1389.8" font-size="24" fill="#0F0F0F" font-weight="bold" textLength="36.67" lengthAdjust="spacing">Jul</text>
<text x="1156.82" y="1389.8" font-size="24" fill="#0F0F0F" font-weight="bold" textLength="48.03" lengthAdjust="spacing">Aug</text>
<text x="1737.69" y="1389.8" font-size="24" fill="#0F0F0F" font-weight="bold" textLength="46.75" lengthAdjust="spacing">Sep</text>
</g>
<g fill="#131313"><path d="M24 1452H48V1482H36V1464H24Z"/><circle cx="58" cy="1458" r="6"/><path d="M70.5 1452H84L72 1482H58Z"/></g>
<text transform="translate(97.2 1482) scale(0.92 1)" x="0" y="0" font-weight="bold" font-size="42.8" fill="#131313" stroke="#131313" stroke-width="0.4" textLength="158.70" lengthAdjust="spacing">Trading</text>
<text transform="translate(240.6 1482) scale(1 1)" x="0" y="0" font-weight="bold" font-size="42.8" fill="#131313" stroke="#131313" stroke-width="0.4" textLength="98.60" lengthAdjust="spacing">View</text>
</svg>
</body></html>
